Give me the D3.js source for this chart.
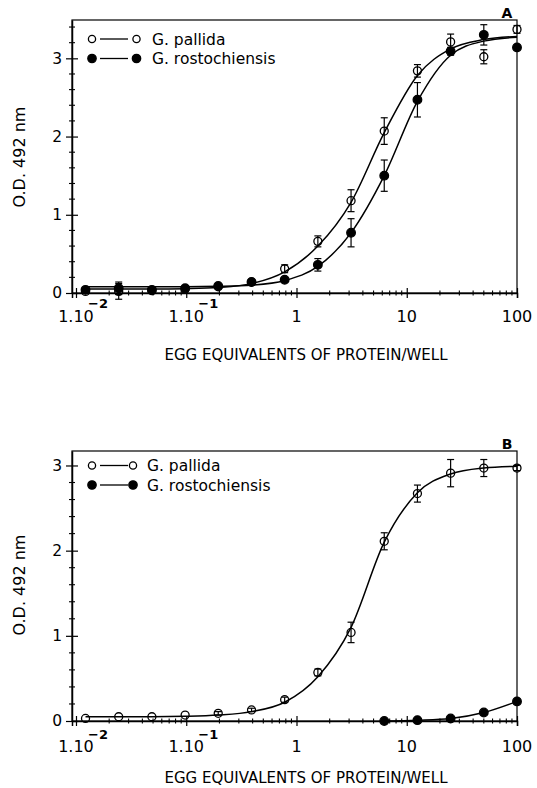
<!DOCTYPE html>
<html>
<head>
<meta charset="utf-8">
<script src="https://cdn.jsdelivr.net/npm/d3@7"></script>
<style>
body{margin:0;background:#fff}
svg{display:block}
text{font-family:"DejaVu Sans",sans-serif;fill:#000}
</style>
</head>
<body>
<div id="chart"></div>
<script>
// egg equivalents per well (two-fold dilution series)
var dilutions = [0.0122, 0.0244, 0.0488, 0.0977, 0.195, 0.391, 0.781, 1.5625, 3.125, 6.25, 12.5, 25, 50, 100];

// panel A
var aPallida     = [0.02, 0.02, 0.03, 0.05, 0.08, 0.14, 0.31, 0.66, 1.18, 2.07, 2.84, 3.21, 3.02, 3.37];
var aPallidaErr  = [0.01, 0.10, 0.01, 0.01, 0.02, 0.02, 0.05, 0.07, 0.14, 0.17, 0.08, 0.10, 0.09, 0.05];
var aPallidaFit  = [0.05, 0.05, 0.05, 0.055, 0.07, 0.12, 0.27, 0.60, 1.16, 2.05, 2.78, 3.12, 3.24, 3.28];
var aRosto       = [0.04, 0.06, 0.04, 0.06, 0.09, 0.14, 0.17, 0.36, 0.77, 1.50, 2.47, 3.09, 3.30, 3.14];
var aRostoErr    = [0.01, 0.08, 0.01, 0.01, 0.01, 0.02, 0.03, 0.08, 0.18, 0.20, 0.22, 0.05, 0.13, 0];
var aRostoFit    = [0.08, 0.08, 0.08, 0.08, 0.085, 0.10, 0.16, 0.34, 0.77, 1.50, 2.45, 3.04, 3.22, 3.27];

// panel B
var bPallida     = [0.03, 0.05, 0.05, 0.07, 0.09, 0.13, 0.25, 0.57, 1.04, 2.11, 2.67, 2.91, 2.97, 2.97];
var bPallidaErr  = [0.01, 0.01, 0.01, 0.01, 0.02, 0.02, 0.03, 0.04, 0.12, 0.10, 0.10, 0.16, 0.10, 0.03];
var bPallidaFit  = [0.05, 0.05, 0.05, 0.055, 0.07, 0.11, 0.22, 0.52, 1.10, 2.10, 2.68, 2.90, 2.97, 2.99];
var bRostoX      = [6.25, 12.5, 25, 50, 100];
var bRosto       = [0.0, 0.01, 0.03, 0.10, 0.23];

var xTickValues = [0.01, 0.1, 1, 10, 100];
var xTickLabels = [["1.10", "\u22122"], ["1.10", "\u22121"], ["1", ""], ["10", ""], ["100", ""]];
var yTickValues = [0, 1, 2, 3];
var seriesNames = ["G. pallida", "G. rostochiensis"];
var xTitle = "EGG EQUIVALENTS OF PROTEIN/WELL";
var yTitle = "O.D. 492 nm";

var W = 537, H = 788;
var svg = d3.select("#chart").append("svg").attr("width", W).attr("height", H);
svg.append("rect").attr("width", W).attr("height", H).attr("fill", "#fff");

function pts(xs, ys, es) {
    return xs.map(function(d, i) { return {x: d, y: ys[i], e: es ? es[i] : 0}; });
}

function drawPanel(p) {
    var left = 72, right = 517;
    var x = d3.scaleLog().domain([0.0092, 100]).range([left, right]);
    var y = d3.scaleLinear().domain([0, p.yMax]).range([p.bottom, p.top]);
    var g = svg.append("g");

    // frame
    g.append("rect").attr("x", left).attr("y", p.top)
        .attr("width", right - left).attr("height", p.bottom - p.top)
        .attr("fill", "none").attr("stroke", "#000").attr("stroke-width", 1.2);

    // y axis (ticks cross the axis)
    var yAxis = g.append("g").attr("transform", "translate(" + left + ",0)")
        .call(d3.axisLeft(y).tickValues(yTickValues).tickFormat(d3.format("d"))
            .tickSizeInner(6).tickSizeOuter(0).tickPadding(4));
    yAxis.select(".domain").attr("stroke-width", 1.5);
    yAxis.selectAll(".tick line").attr("x1", 6).attr("stroke-width", 1.2);
    yAxis.selectAll(".tick text").attr("font-size", 15.5).attr("font-family", "DejaVu Sans");
    var yMinor = d3.range(0.2, p.yMax, 0.2).filter(function(v) { return Math.abs(v - Math.round(v)) > 0.01; });
    g.selectAll(".yminor").data(yMinor).enter().append("line")
        .attr("x1", left - 3).attr("x2", left + 3)
        .attr("y1", function(d) { return y(d); }).attr("y2", function(d) { return y(d); })
        .attr("stroke", "#000").attr("stroke-width", 1.1);

    // x axis
    var xAxis = g.append("g").attr("transform", "translate(0," + p.bottom + ")")
        .call(d3.axisBottom(x).tickValues(xTickValues).tickFormat("").tickSizeOuter(0).tickSize(5));
    xAxis.select(".domain").attr("stroke-width", 1.5);
    xAxis.selectAll(".tick line").attr("y1", -5).attr("stroke-width", 1.2);
    var xMinor = [];
    [0.01, 0.1, 1, 10].forEach(function(dec) {
        for (var k = 2; k <= 9; k++) xMinor.push(dec * k);
    });
    g.selectAll(".xminor").data(xMinor).enter().append("line")
        .attr("x1", function(d) { return x(d); }).attr("x2", function(d) { return x(d); })
        .attr("y1", p.bottom - 2.5).attr("y2", p.bottom + 2.5)
        .attr("stroke", "#000").attr("stroke-width", 1.1);

    xTickValues.forEach(function(v, i) {
        g.append("text").attr("x", x(v)).attr("y", p.bottom + p.labelDy)
            .attr("text-anchor", "middle").attr("font-size", 16).text(xTickLabels[i][0]);
        if (xTickLabels[i][1]) {
            g.append("text").attr("x", x(v) + 12).attr("y", p.bottom + p.supDy)
                .attr("font-size", 13).attr("font-weight", "bold").text(xTickLabels[i][1]);
        }
    });

    // titles
    g.append("text").attr("x", 306).attr("y", p.bottom + p.titleDy)
        .attr("text-anchor", "middle").attr("font-size", 15).text(xTitle);
    g.append("text").attr("transform", "translate(25," + p.yTitleY + ") rotate(-90)")
        .attr("text-anchor", "middle").attr("font-size", 16).text(yTitle);
    g.append("text").attr("x", 507).attr("y", p.top - 2.5)
        .attr("text-anchor", "middle").attr("font-size", 14).attr("font-weight", "bold").text(p.letter);

    // fitted curves
    var line = d3.line().x(function(d) { return x(d.x); }).y(function(d) { return y(d.y); })
        .curve(d3.curveMonotoneX);
    p.curves.forEach(function(c) {
        g.append("path").attr("d", line(c)).attr("fill", "none")
            .attr("stroke", "#000").attr("stroke-width", 1.5);
    });

    // points with error bars
    p.series.forEach(function(s) {
        var withErr = s.data.filter(function(d) { return d.e > 0.015; });
        var eb = g.selectAll(null).data(withErr).enter().append("g").attr("stroke", "#000").attr("stroke-width", 1.2);
        eb.append("line").attr("x1", function(d) { return x(d.x); }).attr("x2", function(d) { return x(d.x); })
            .attr("y1", function(d) { return y(d.y - d.e); }).attr("y2", function(d) { return y(d.y + d.e); });
        eb.append("line").attr("x1", function(d) { return x(d.x) - 3.5; }).attr("x2", function(d) { return x(d.x) + 3.5; })
            .attr("y1", function(d) { return y(d.y + d.e); }).attr("y2", function(d) { return y(d.y + d.e); });
        eb.append("line").attr("x1", function(d) { return x(d.x) - 3.5; }).attr("x2", function(d) { return x(d.x) + 3.5; })
            .attr("y1", function(d) { return y(d.y - d.e); }).attr("y2", function(d) { return y(d.y - d.e); });

        g.selectAll(null).data(s.data).enter().append("circle")
            .attr("cx", function(d) { return x(d.x); }).attr("cy", function(d) { return y(d.y); })
            .attr("r", s.filled ? 4.3 : 4)
            .attr("fill", s.filled ? "#000" : "none")
            .attr("stroke", "#000").attr("stroke-width", 1.3);
    });

    // legend
    [0, 1].forEach(function(i) {
        var ly = p.legendY[i];
        var filled = i == 1;
        g.append("line").attr("x1", 100).attr("x2", 128).attr("y1", ly).attr("y2", ly)
            .attr("stroke", "#000").attr("stroke-width", 1.3);
        [92, p.legendX2].forEach(function(cx) {
            g.append("circle").attr("cx", cx).attr("cy", ly).attr("r", filled ? 4.2 : 3.6)
                .attr("fill", filled ? "#000" : "#fff").attr("stroke", "#000").attr("stroke-width", 1.3);
        });
        g.append("text").attr("x", p.legendTextX).attr("y", ly + 5.5)
            .attr("font-size", 15.5).text(seriesNames[i]);
    });
}

drawPanel({
    letter: "A", top: 20, bottom: 293, yMax: 3.49,
    labelDy: 28.5, supDy: 14.5, titleDy: 67, yTitleY: 157,
    legendY: [39, 58.5], legendX2: 136.5, legendTextX: 152,
    curves: [pts(dilutions, aPallidaFit), pts(dilutions, aRostoFit)],
    series: [
        {filled: false, data: pts(dilutions, aPallida, aPallidaErr)},
        {filled: true, data: pts(dilutions, aRosto, aRostoErr)}
    ]
});

drawPanel({
    letter: "B", top: 451, bottom: 721, yMax: 3.17,
    labelDy: 31, supDy: 17.5, titleDy: 62, yTitleY: 585,
    legendY: [465.5, 485], legendX2: 133, legendTextX: 147,
    curves: [pts(dilutions, bPallidaFit), pts(bRostoX, bRosto)],
    series: [
        {filled: false, data: pts(dilutions, bPallida, bPallidaErr)},
        {filled: true, data: pts(bRostoX, bRosto)}
    ]
});
</script>
</body>
</html>
